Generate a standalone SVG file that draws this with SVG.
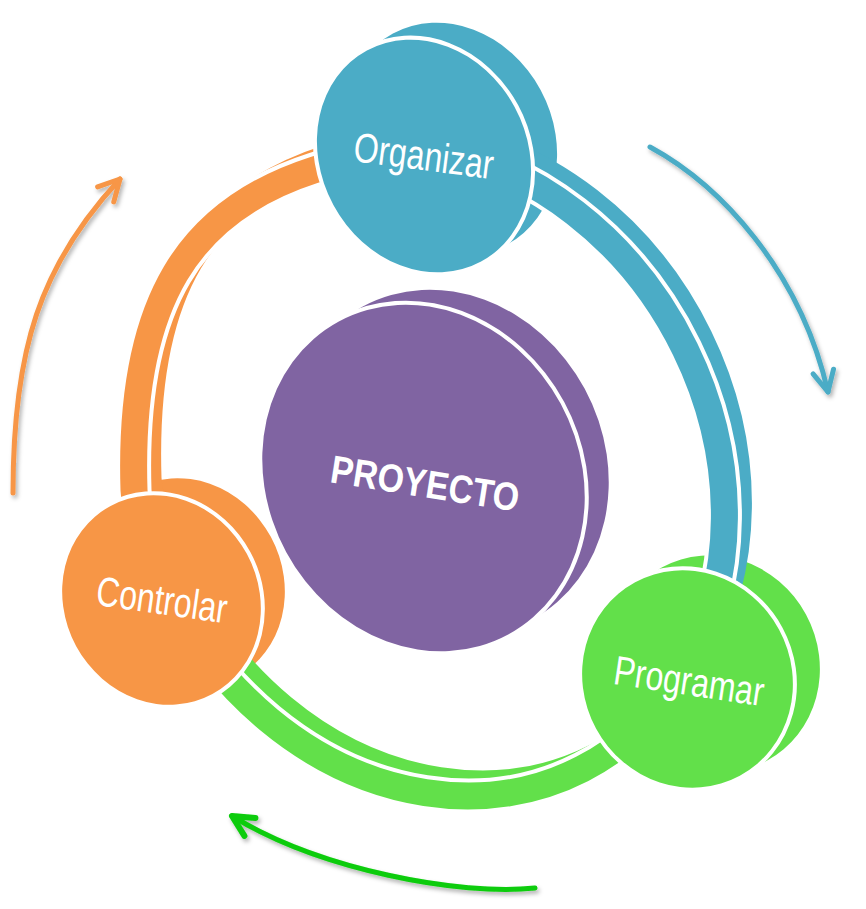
<svg xmlns="http://www.w3.org/2000/svg" xmlns:xlink="http://www.w3.org/1999/xlink" width="866" height="909" viewBox="0 0 866 909">
  <style>
    .depth-blue { fill: #4BACC6; }
    .depth-purple { fill: #8064A2; }
    .depth-green { fill: #62E04A; }
    .depth-orange { fill: #F79646; }
    .face { stroke: #ffffff; stroke-width: 8; paint-order: stroke; }
    .band { fill: none; stroke-width: 27; stroke-linecap: butt; }
    .band-halo { fill: none; stroke: #ffffff; stroke-width: 35; stroke-linecap: butt; }
    .s-blue { stroke: #4BACC6; }
    .s-green { stroke: #62E04A; }
    .s-orange { stroke: #F79646; }
    .lbl { font-family: "Liberation Sans", Arial, sans-serif; font-size: 32px; fill: #ffffff; text-anchor: middle; }
    .lbl-main { font-family: "Liberation Sans", Arial, sans-serif; font-size: 34px; font-weight: bold; fill: #ffffff; text-anchor: middle; }
    .flow { fill: none; stroke-width: 5; stroke-linecap: round; }
  </style>
  <defs>
    <filter id="soft-shadow" x="-20%" y="-20%" width="140%" height="140%">
      <feDropShadow dx="2" dy="3" stdDeviation="2" flood-color="#000000" flood-opacity="0.3"/>
    </filter>
    <marker id="tip-blue" markerUnits="userSpaceOnUse" orient="auto" overflow="visible" refX="0" refY="0" markerWidth="30" markerHeight="30">
      <path d="M-21,-10.5 L0,0 L-21,10.5" fill="none" stroke="#4BACC6" stroke-width="5" stroke-linecap="round" stroke-linejoin="round"/>
    </marker>
    <marker id="tip-orange" markerUnits="userSpaceOnUse" orient="auto" overflow="visible" refX="0" refY="0" markerWidth="30" markerHeight="30">
      <path d="M-21,-11 L0,0 L-21,11" fill="none" stroke="#F79646" stroke-width="5" stroke-linecap="round" stroke-linejoin="round"/>
    </marker>
    <marker id="tip-green" markerUnits="userSpaceOnUse" orient="auto" overflow="visible" refX="0" refY="0" markerWidth="30" markerHeight="30">
      <path d="M-21,-10.5 L0,0 L-21,10.5" fill="none" stroke="#0ACC0A" stroke-width="6" stroke-linecap="round" stroke-linejoin="round"/>
    </marker>
    <!-- ring segments, front face centre lines -->
    <path id="arc-blue" d="M424,147 A337,285.5 61.6 0 1 682,675"/>
    <path id="arc-green" d="M682,675 A337,285.5 61.6 0 1 170,595"/>
    <path id="arc-orange" d="M170,595 C160,560 135,522 134,490 C128,300 190,210 314,170 C349,159 405,152 424,150"/>
  </defs>

  <!-- curved direction arrows around the cycle -->
  <g id="flow-arrows" filter="url(#soft-shadow)">
    <path class="flow" stroke="#4BACC6" d="M650,147 C720,185 800,270 828,392" marker-end="url(#tip-blue)"/>
    <path class="flow" stroke="#0ACC0A" stroke-width="6" d="M535,888 C460,896 320,870 232,816" marker-end="url(#tip-green)"/>
    <path class="flow" stroke="#F79646" d="M13,493 C13,350 40,265 120,179" marker-end="url(#tip-orange)"/>
  </g>

  <!-- extruded rear faces of the discs -->
  <g id="disc-depth">
    <ellipse class="depth-blue" cx="450" cy="139" rx="120" ry="103" transform="rotate(61.6 450 139)"/>
    <ellipse class="depth-purple" cx="447.5" cy="463" rx="178" ry="156" transform="rotate(61.6 447.5 463)"/>
    <ellipse class="depth-green" cx="714.5" cy="664" rx="110" ry="104" transform="rotate(61.6 714.5 664)"/>
    <ellipse class="depth-orange" cx="185.5" cy="583" rx="107" ry="97" transform="rotate(61.6 185.5 583)"/>
  </g>

  <!-- cycle ring connecting the stages -->
  <g id="connectors">
    <g transform="translate(14,-12)">
      <use xlink:href="#arc-blue" class="band s-blue"/>
      <use xlink:href="#arc-green" class="band s-green"/>
      <use xlink:href="#arc-orange" class="band s-orange"/>
    </g>
    <use xlink:href="#arc-blue" class="band-halo"/>
    <use xlink:href="#arc-green" class="band-halo"/>
    <use xlink:href="#arc-orange" class="band-halo"/>
    <use xlink:href="#arc-blue" class="band s-blue"/>
    <use xlink:href="#arc-green" class="band s-green"/>
    <use xlink:href="#arc-orange" class="band s-orange"/>
  </g>

  <g id="node-proyecto">
    <ellipse class="face depth-purple" cx="423.5" cy="478" rx="178" ry="156" transform="rotate(61.6 423.5 478)"/>
    <text class="lbl-main" transform="translate(423,497) rotate(8.9) scale(1,1.16)">PROYECTO</text>
  </g>

  <g id="node-organizar">
    <ellipse class="face depth-blue" cx="424" cy="156" rx="120" ry="103" transform="rotate(61.6 424 156)"/>
    <text class="lbl" transform="translate(422,170) rotate(7.4) scale(1,1.3)">Organizar</text>
  </g>

  <g id="node-programar">
    <ellipse class="face depth-green" cx="687.5" cy="679" rx="110" ry="104" transform="rotate(61.6 687.5 679)"/>
    <text class="lbl" transform="translate(687,695) rotate(8.5) scale(1,1.28)">Programar</text>
  </g>

  <g id="node-controlar">
    <ellipse class="face depth-orange" cx="161.5" cy="600" rx="107" ry="97" transform="rotate(61.6 161.5 600)"/>
    <text class="lbl" transform="translate(160,614) rotate(8.1) scale(1,1.3)">Controlar</text>
  </g>
</svg>
